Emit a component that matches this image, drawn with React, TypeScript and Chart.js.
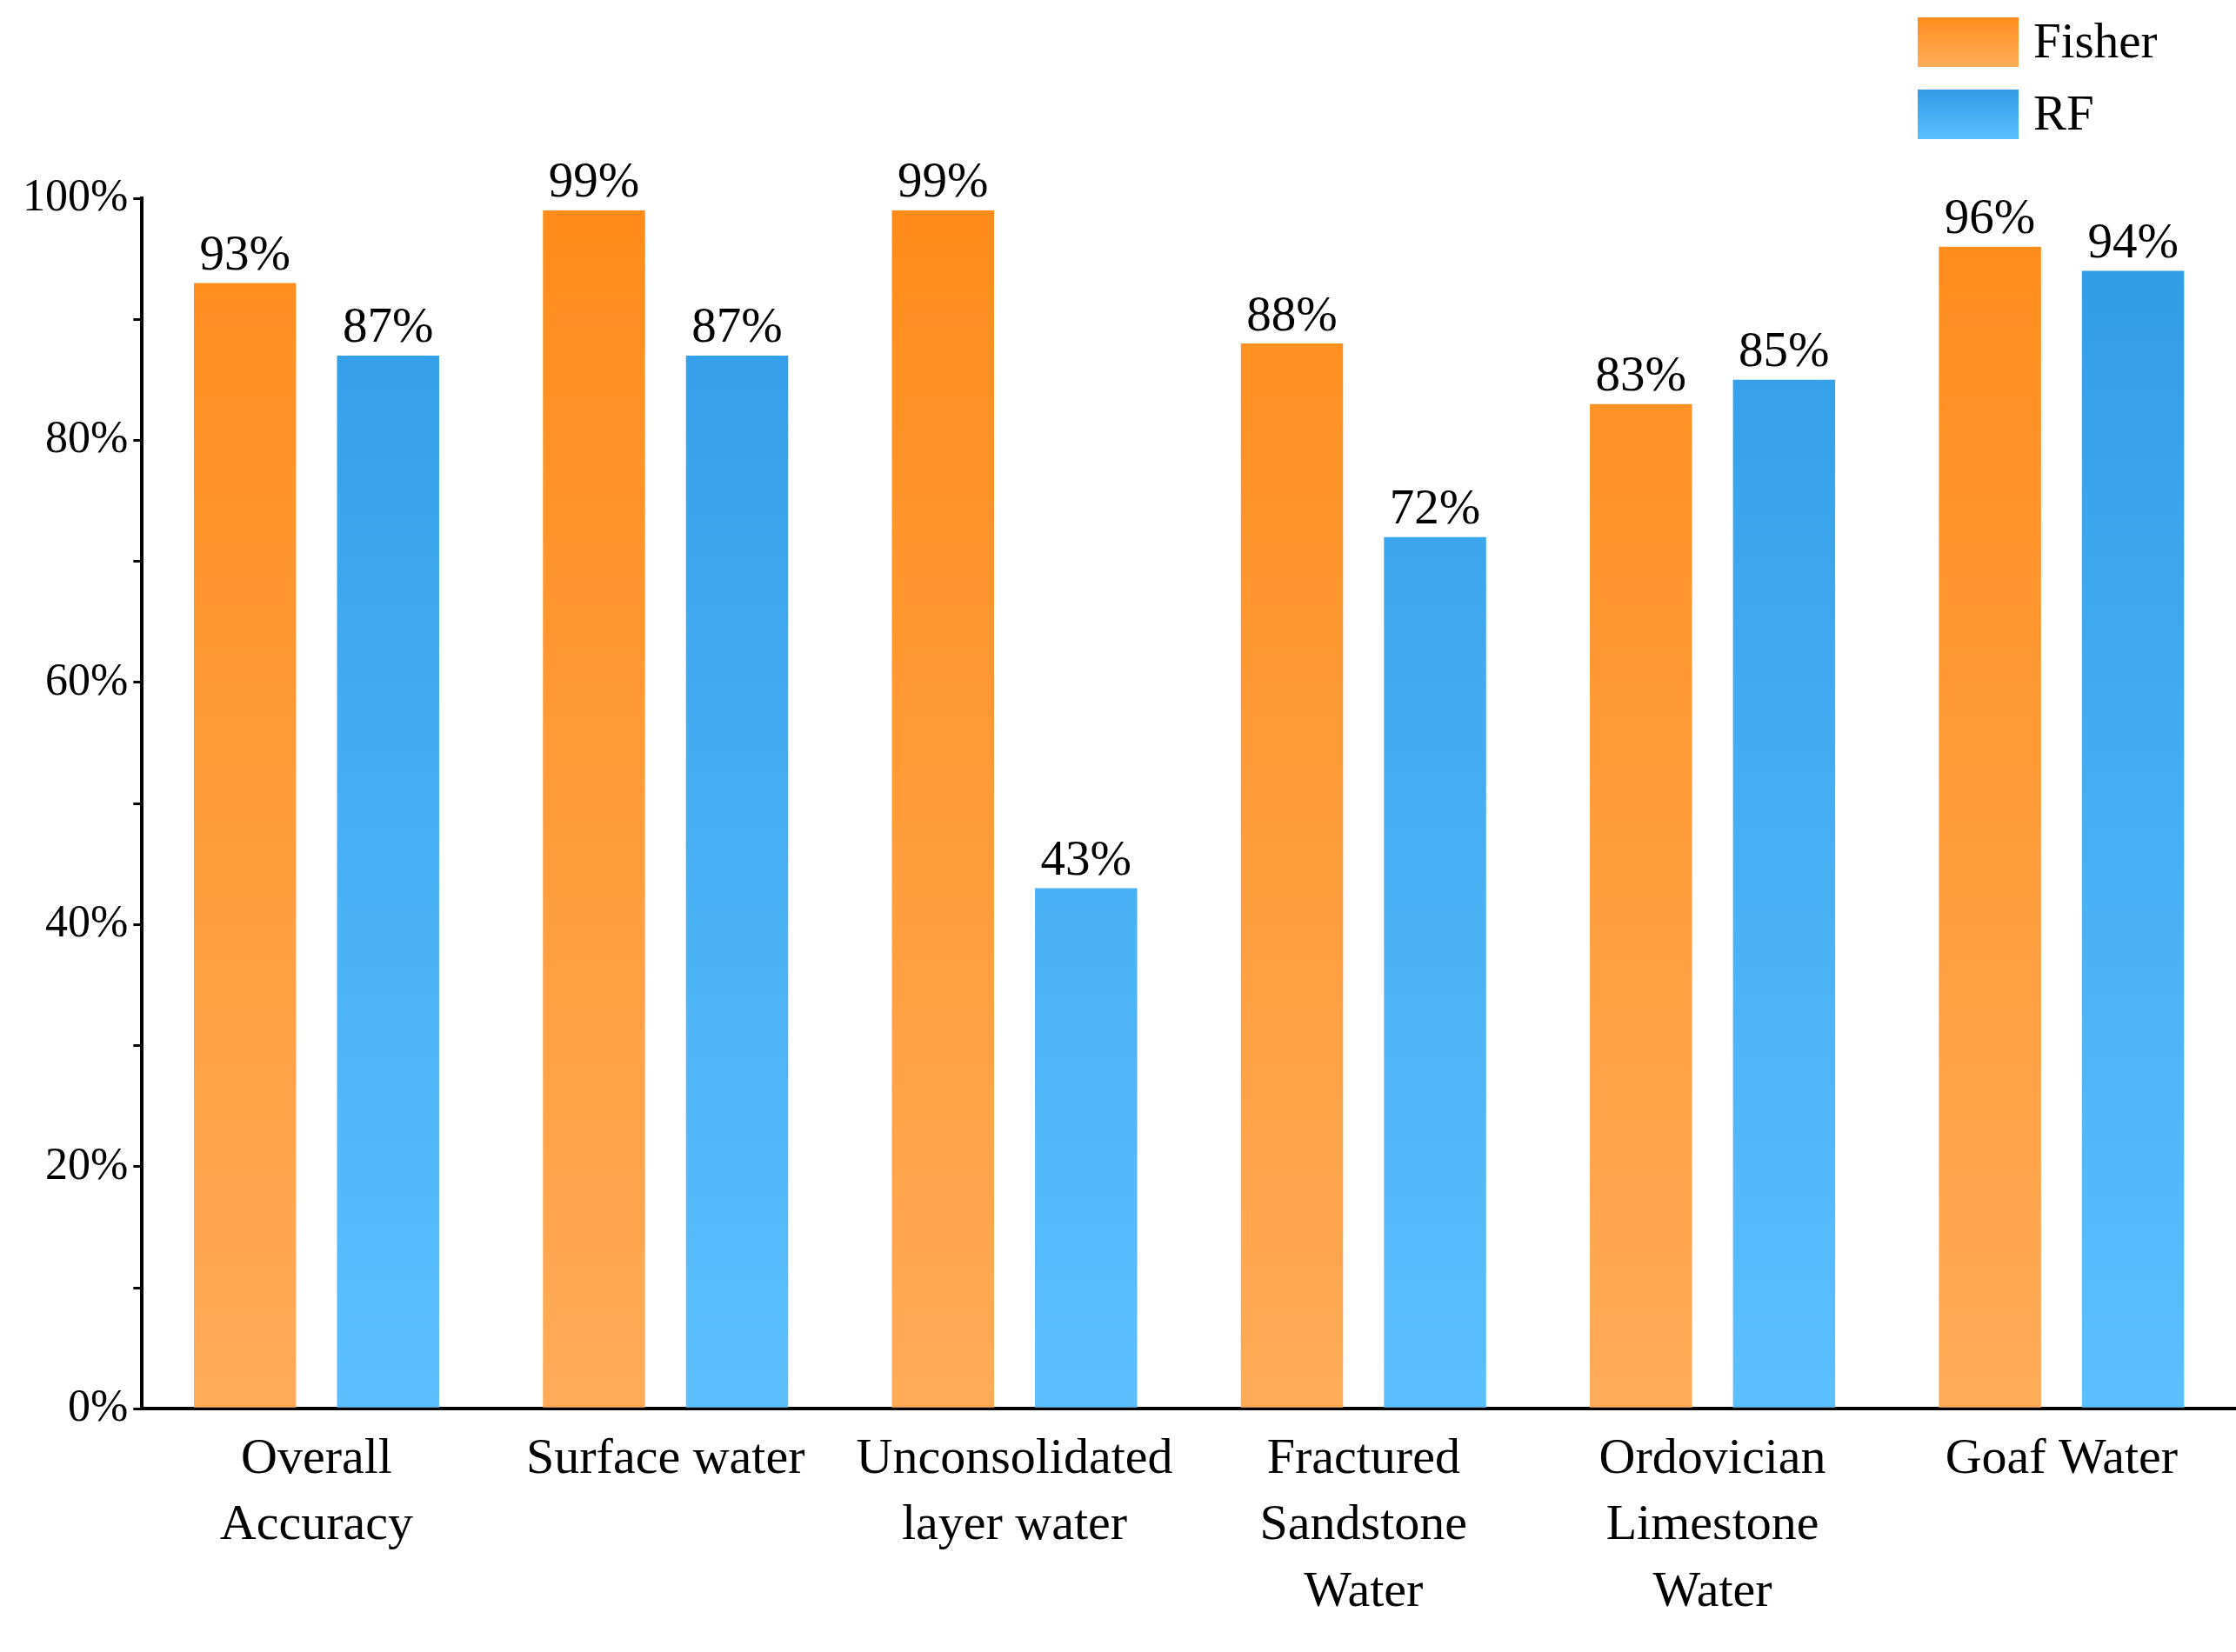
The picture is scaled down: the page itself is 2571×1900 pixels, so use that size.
import React, { useEffect, useRef } from "react";
import { Chart, registerables } from "chart.js";
Chart.register(...registerables);

const categories = [
  ["Overall", "Accuracy"],
  ["Surface water"],
  ["Unconsolidated", "layer water"],
  ["Fractured", "Sandstone", "Water"],
  ["Ordovician", "Limestone", "Water"],
  ["Goaf Water"],
];
const fisher = [93, 99, 99, 88, 83, 96];
const rf = [87, 87, 43, 72, 85, 94];
const fisherLabels = ["93%", "99%", "99%", "88%", "83%", "96%"];
const rfLabels = ["87%", "87%", "43%", "72%", "85%", "94%"];

const FONT = '"Liberation Serif", "Times New Roman", serif';

function grad(ctx: CanvasRenderingContext2D, area: any, top: string, bottom: string) {
  const g = ctx.createLinearGradient(0, area.top, 0, area.bottom);
  g.addColorStop(0, top);
  g.addColorStop(1, bottom);
  return g;
}

export default function App() {
  const ref = useRef<HTMLCanvasElement>(null);
  useEffect(() => {
    document.body.style.margin = "0";
    const labelPlugin = {
      id: "labels",
      afterDatasetsDraw(chart: any) {
        const ctx = chart.ctx;
        ctx.save();
        ctx.font = `57px ${FONT}`;
        ctx.fillStyle = "#000";
        ctx.textAlign = "center";
        ctx.textBaseline = "bottom";
        [fisherLabels, rfLabels].forEach((labs, di) => {
          chart.getDatasetMeta(di).data.forEach((bar: any, i: number) => {
            ctx.fillText(labs[i], bar.x, bar.y - 2);
          });
        });
        const items = [
          { t: "Fisher", c1: "#FF8C1A", c2: "#FFAE5C", y: 20 },
          { t: "RF", c1: "#2F9BE6", c2: "#5CC0FF", y: 103 },
        ];
        ctx.textAlign = "left";
        ctx.textBaseline = "middle";
        items.forEach((it) => {
          const g = ctx.createLinearGradient(0, it.y, 0, it.y + 57);
          g.addColorStop(0, it.c1);
          g.addColorStop(1, it.c2);
          ctx.fillStyle = g;
          ctx.fillRect(2205, it.y, 116, 57);
          ctx.fillStyle = "#000";
          ctx.fillText(it.t, 2338, it.y + 31);
        });
        ctx.restore();
      },
    };
    const common = { categoryPercentage: 0.82, barPercentage: 0.714 };
    const chart = new Chart(ref.current!, {
      type: "bar",
      data: {
        labels: categories as any,
        datasets: [
          {
            label: "Fisher",
            data: fisher,
            backgroundColor: (c: any) =>
              c.chart.chartArea ? grad(c.chart.ctx, c.chart.chartArea, "#FF8C1A", "#FFAB58") : "#FF9A3A",
            ...common,
          },
          {
            label: "RF",
            data: rf,
            backgroundColor: (c: any) =>
              c.chart.chartArea ? grad(c.chart.ctx, c.chart.chartArea, "#2F9BE6", "#5CC0FF") : "#45ADF0",
            ...common,
          },
        ],
      },
      options: {
        animation: false,
        responsive: false,
        layout: { padding: { top: 228, right: 0, left: 20, bottom: 10 } },
        plugins: { legend: { display: false }, tooltip: { enabled: false } },
        scales: {
          x: {
            grid: { display: false, drawTicks: false },
            border: { color: "#000", width: 4 },
            ticks: { color: "#000", font: { family: FONT, size: 58, lineHeight: 1.32 }, padding: 20 },
          },
          y: {
            min: 0,
            max: 100,
            grid: { drawOnChartArea: false, color: "#000", lineWidth: 3, tickLength: 10 },
            border: { color: "#000", width: 4 },
            ticks: {
              stepSize: 10,
              color: "#000",
              font: { family: FONT, size: 52 },
              callback: (v: any) => (v % 20 === 0 ? v + "%" : ""),
              padding: 6,
            },
          },
        },
      },
      plugins: [labelPlugin],
    });
    return () => chart.destroy();
  }, []);
  return (
    <div style={{ position: "absolute", left: 0, top: 0, width: 2571, height: 1900 }}>
      <canvas ref={ref} width={2571} height={1900} style={{ width: 2571, height: 1900 }} />
    </div>
  );
}
